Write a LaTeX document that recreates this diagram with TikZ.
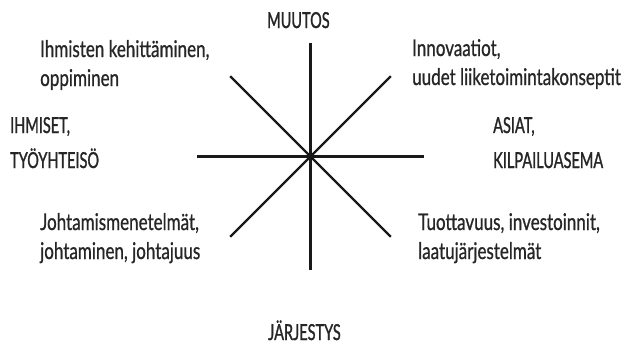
\documentclass[tikz,border=0pt]{standalone}
\usepackage{fontspec}
\setmainfont{Lato}[FakeStretch=0.74,FakeBold=0.8]
\newfontfamily\capsfont{Lato}[FakeStretch=0.66,FakeBold=1.2]
\usepackage{tikz}
\usetikzlibrary{calc}

\begin{document}
\begin{tikzpicture}[
  x=1pt,y=-1pt,
  spoke/.style={line width=2.3pt,draw=black!90},
  txt/.style={anchor=base west,align=left,inner sep=0pt,text=black!85,
    font=\fontsize{23}{29}\selectfont},
  pol/.style={anchor=base west,align=left,inner sep=0pt,text=black!85,
    font=\capsfont\fontsize{22}{35}\selectfont},
]
\useasboundingbox (0,0) rectangle (635,348);
\coordinate (c) at (310.5,156.5);
% the eight spokes
\foreach \a in {0,45,...,315}{
  \coordinate (e\a) at ($(c)+(\a:113.5)$);
  \draw[spoke] (c) -- (e\a);
}
% poles
\node[pol] (muutos) at (267,28) {MUUTOS};
\node[pol] (jarj) at (268,340) {JÄRJESTYS};
\node[pol] (ihm) at (10,168) {IHMISET,\\TYÖYHTEISÖ};
\node[pol] (asiat) at (493,168) {ASIAT,\\KILPAILUASEMA};
% between the poles
\node[txt] (kehit) at (40,86) {Ihmisten kehittäminen,\\oppiminen};
\node[txt] (innov) at (412,85) {Innovaatiot,\\uudet liiketoimintakonseptit};
\node[txt] (johto) at (40,259) {Johtamismenetelmät,\\johtaminen, johtajuus};
\node[txt] (tuott) at (418,259) {Tuottavuus, investoinnit,\\laatujärjestelmät};
\end{tikzpicture}
\end{document}
